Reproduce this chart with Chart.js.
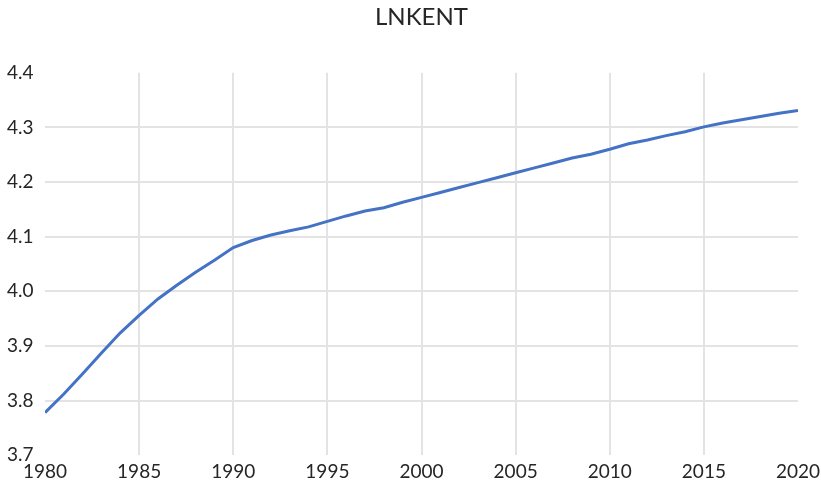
<!DOCTYPE html>
<html>
<head>
<meta charset="utf-8">
<script src="https://cdn.jsdelivr.net/npm/chart.js@4/dist/chart.umd.min.js"></script>
<style>
  html, body { margin: 0; padding: 0; background: #fff; }
  #wrap { width: 821px; height: 485px; }
</style>
</head>
<body>
<div id="wrap"><canvas id="chart" width="821" height="485"></canvas></div>
<script>
// Datos del gráfico
const chartTitle = 'LNKENT';
const years = [];
for (let y = 1980; y <= 2020; y++) years.push(y);
const lnkent = [
  3.778, 3.812, 3.849, 3.887, 3.924, 3.956, 3.986, 4.011, 4.035, 4.057,
  4.080, 4.093, 4.103, 4.111, 4.118, 4.128, 4.138, 4.147, 4.153, 4.163,
  4.172, 4.181, 4.190, 4.199, 4.208, 4.217, 4.226, 4.235, 4.244, 4.251,
  4.260, 4.270, 4.277, 4.285, 4.292, 4.301, 4.308, 4.314, 4.320, 4.326,
  4.331
];
const xTicks = [1980, 1985, 1990, 1995, 2000, 2005, 2010, 2015, 2020];
const yMin = 3.7, yMax = 4.4;

const points = years.map((yr, i) => ({ x: yr, y: lnkent[i] }));

const font = 'Lato, "Open Sans", sans-serif';

new Chart(document.getElementById('chart').getContext('2d'), {
  type: 'line',
  data: {
    datasets: [{
      label: chartTitle,
      data: points,
      borderColor: '#4472C4',
      borderWidth: 3,
      pointRadius: 0,
      tension: 0,
      fill: false
    }]
  },
  options: {
    responsive: false,
    animation: false,
    layout: { padding: { top: 3, left: 7, right: 0, bottom: 2 } },
    plugins: {
      legend: { display: false },
      tooltip: { enabled: false },
      title: {
        display: true,
        fullSize: false,
        text: chartTitle,
        color: '#262626',
        font: { family: font, size: 24, weight: 'normal' },
        padding: { top: 0, bottom: 41 }
      }
    },
    scales: {
      x: {
        type: 'linear',
        min: 1980,
        max: 2020,
        afterBuildTicks: axis => { axis.ticks = xTicks.map(v => ({ value: v })); },
        afterFit: axis => { axis.paddingRight = 23; axis.height -= 5; },
        ticks: {
          color: '#262626',
          font: { family: font, size: 19 },
          padding: 5,
          maxRotation: 0,
          callback: v => String(v)
        },
        grid: {
          color: ctx => (ctx.tick && (ctx.tick.value === 1980 || ctx.tick.value === 2020)) ? 'rgba(0,0,0,0)' : '#e3e3e3',
          lineWidth: 2,
          drawTicks: false
        },
        border: { display: false }
      },
      y: {
        min: yMin,
        max: yMax,
        afterFit: axis => { axis.width = 38; },
        ticks: {
          stepSize: 0.1,
          color: '#262626',
          font: { family: font, size: 19 },
          crossAlign: 'far',
          padding: 0,
          callback: v => Number(v).toFixed(1)
        },
        grid: {
          color: ctx => (ctx.tick && (Math.abs(ctx.tick.value - yMin) < 1e-6 || Math.abs(ctx.tick.value - yMax) < 1e-6)) ? 'rgba(0,0,0,0)' : '#e3e3e3',
          lineWidth: 2,
          drawTicks: false
        },
        border: { display: false }
      }
    }
  }
});
</script>
</body>
</html>
